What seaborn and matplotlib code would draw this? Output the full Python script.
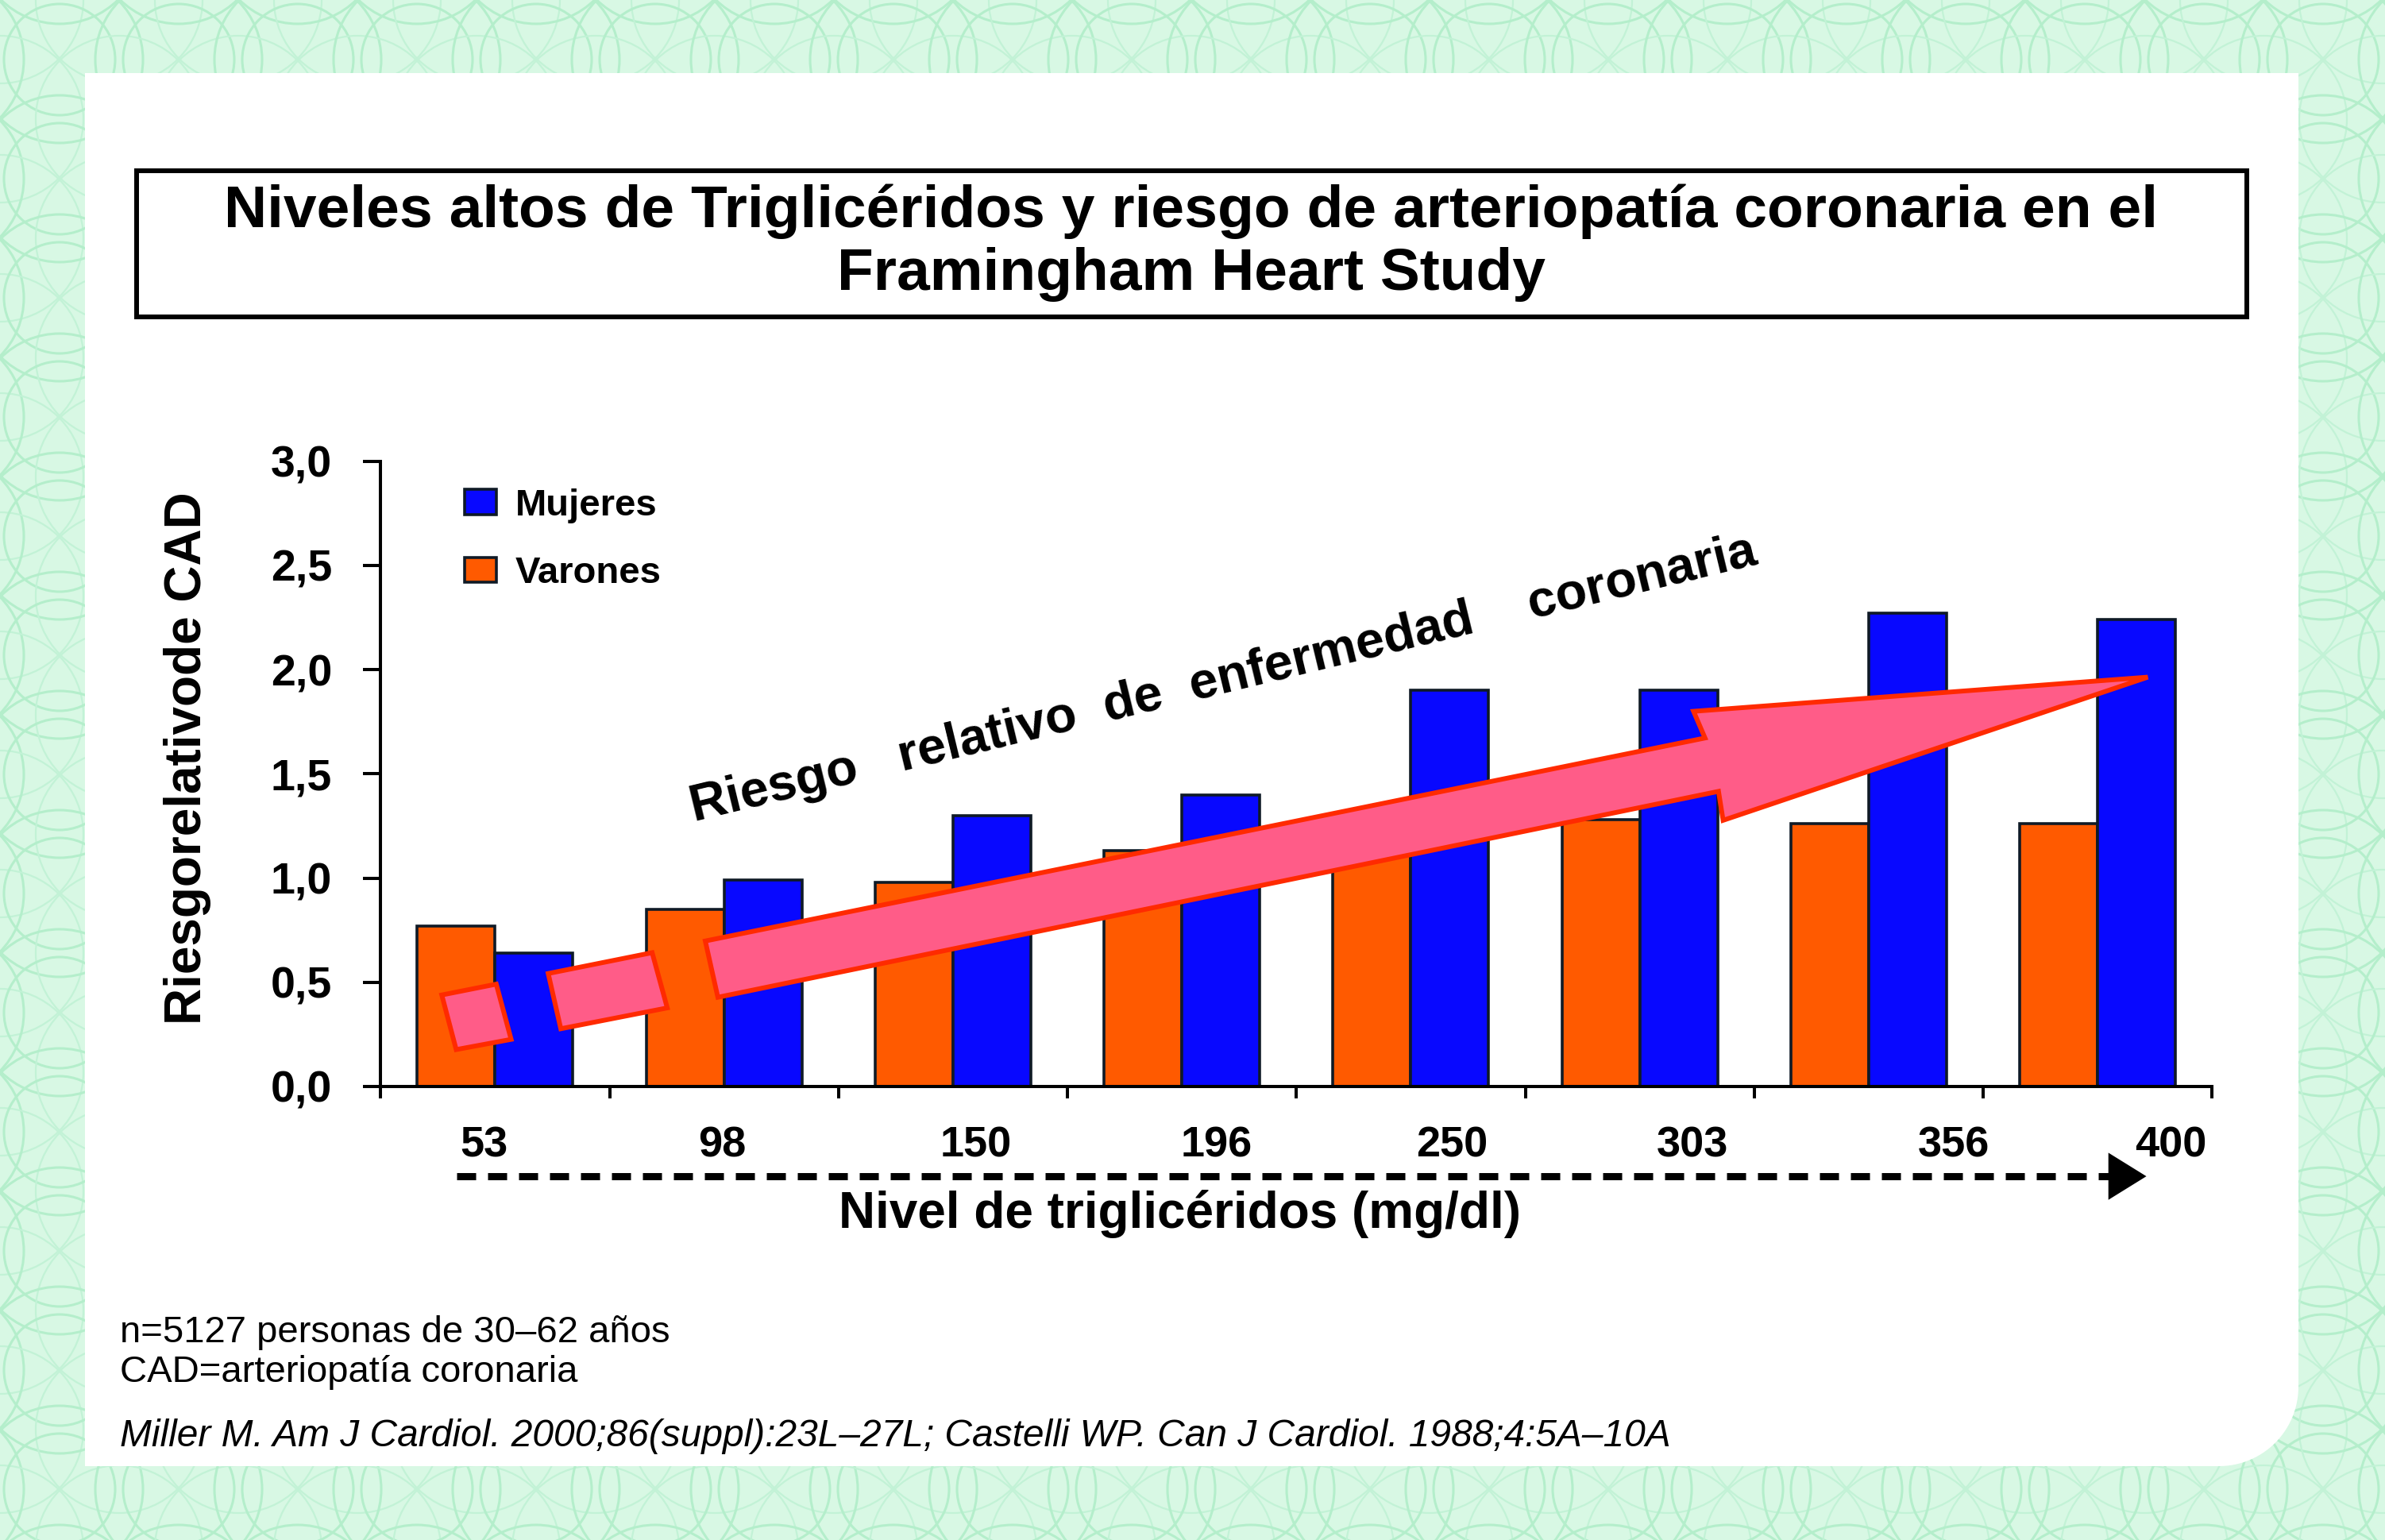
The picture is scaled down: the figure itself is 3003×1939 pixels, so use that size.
import numpy as np
import pandas as pd
import matplotlib
matplotlib.use("Agg")
import matplotlib.pyplot as plt
from matplotlib.patches import Polygon, Rectangle, Circle, Patch
import seaborn as sns

# datos
niveles = ["53", "98", "150", "196", "250", "303", "356", "400"]
mujeres = [0.64, 0.99, 1.30, 1.40, 1.90, 1.90, 2.27, 2.24]
varones = [0.77, 0.85, 0.98, 1.13, 1.20, 1.28, 1.26, 1.26]
desplaz_etiquetas = [-0.05, -0.01, 0.10, 0.15, 0.18, 0.23, 0.37, 0.32]
grupos = ["Varones", "Mujeres"]
colores = {"Varones": "#ff5a00", "Mujeres": "#0808ff"}
borde_barra = "#0f1a26"

titulo = ("Niveles altos de Triglicéridos y riesgo de arteriopatía coronaria en el\n"
          "Framingham Heart Study")
notas = ["n=5127 personas de 30\u201362 años", "CAD=arteriopatía coronaria"]
cita = ("Miller M. Am J Cardiol. 2000;86(suppl):23L\u201327L; "
        "Castelli WP. Can J Cardiol. 1988;4:5A\u201310A")

df = pd.DataFrame({
    "nivel": niveles * 2,
    "grupo": ["Varones"] * len(niveles) + ["Mujeres"] * len(niveles),
    "riesgo": varones + mujeres,
})

sns.set_theme(style="white")
plt.rcParams["font.family"] = ["Liberation Sans", "DejaVu Sans"]
plt.rcParams["text.color"] = "black"
plt.rcParams["xtick.color"] = "black"
plt.rcParams["ytick.color"] = "black"

W, H = 3003, 1939
fig = plt.figure(figsize=(W / 100, H / 100), dpi=100)
fig.patch.set_facecolor("#d8f8e4")

# fondo con anillos verdes y panel blanco
bg = fig.add_axes([0, 0, 1, 1])
bg.set_xlim(0, W)
bg.set_ylim(H, 0)
bg.axis("off")
for cx in range(-75, W + 150, 150):
    for cy in range(-75, H + 150, 150):
        for r in (70, 105):
            bg.add_patch(Circle((cx, cy), r, fill=False, ec="#b4eecb", lw=2.2))
        bg.add_patch(Circle((cx + 75, cy + 75), 105, fill=False, ec="#c2f2d6", lw=1.6))

x0, x1, y0, y1, rad = 107, 2894, 92, 1846, 100
ang = np.linspace(0, np.pi / 2, 30)
esquina = np.column_stack([x1 - rad + rad * np.cos(ang), y1 - rad + rad * np.sin(ang)])
panel = np.vstack([[x0, y0], [x1, y0], esquina, [x0, y1]])
bg.add_patch(Polygon(panel, closed=True, fc="white", ec="none"))

bg.add_patch(Rectangle((172, 215), 2657, 184, fc="white", ec="black", lw=4.3))
bg.text(1500, 306, titulo, ha="center", va="center", fontsize=54,
        fontweight="bold", linespacing=1.18)

# grafico de barras
ax = fig.add_axes([0.1596, 0.2945, 0.7679, 0.406])
sns.barplot(data=df, x="nivel", y="riesgo", hue="grupo", hue_order=grupos,
            order=niveles, palette=colores, width=0.68, saturation=1,
            edgecolor=borde_barra, linewidth=2.6, legend=False, ax=ax)
ax.patch.set_visible(False)
ax.set_xlim(-0.5, 7.5)
ax.set_ylim(0, 3)
for s in ["top", "right"]:
    ax.spines[s].set_visible(False)
for s in ["left", "bottom"]:
    ax.spines[s].set_linewidth(2.9)
    ax.spines[s].set_color("black")

yt = np.arange(0, 3.01, 0.5)
ax.set_yticks(yt)
ax.set_yticklabels([f"{v:.1f}".replace(".", ",") for v in yt],
                   fontsize=40, fontweight="bold")
ax.tick_params(axis="y", direction="out", length=16, width=2.9, pad=28,
               left=True, color="black")

ax.set_xticks(np.arange(-0.5, 8, 1))
ax.set_xticklabels([])
ax.set_xticks(np.arange(len(niveles)) + np.array(desplaz_etiquetas), minor=True)
ax.set_xticklabels(niveles, minor=True, fontsize=39, fontweight="bold")
ax.tick_params(axis="x", which="major", direction="out", length=11, width=2.9,
               bottom=True, color="black")
ax.tick_params(axis="x", which="minor", length=0, pad=36)
ax.set_xlabel("")
ax.set_ylabel("")

leyenda = [Patch(fc=colores["Mujeres"], ec=borde_barra, lw=2.6),
           Patch(fc=colores["Varones"], ec=borde_barra, lw=2.6)]
ax.legend(leyenda, ["Mujeres", "Varones"], loc="upper left",
          bbox_to_anchor=(0.046, 0.957), frameon=False, borderaxespad=0,
          borderpad=0, handlelength=0.85, handleheight=0.65, handletextpad=0.5,
          labelspacing=0.88, prop={"size": 34, "weight": "bold"})

# flecha rosa de tendencia
rosa, rojo = "#ff5c88", "#ff2a00"
trozos = [
    [(-0.233, 0.439), (0.005, 0.491), (0.070, 0.226), (-0.170, 0.177)],
    [(0.232, 0.542), (0.686, 0.642), (0.752, 0.377), (0.287, 0.277)],
    [(0.918, 0.698), (5.285, 1.672), (5.235, 1.800), (7.219, 1.964),
     (5.364, 1.277), (5.344, 1.416), (0.973, 0.428)],
]
for t in trozos:
    ax.add_patch(Polygon(t, closed=True, fc=rosa, ec=rojo, lw=4.3,
                         joinstyle="miter", zorder=5, clip_on=False))

ax.text(0.87, 1.27, "Riesgo   relativo  de  enfermedad    coronaria",
        rotation=13.6, rotation_mode="anchor", ha="left", va="baseline",
        fontsize=46.5, fontweight="bold", zorder=6)

# flecha discontinua del eje x
ax.plot([-0.168, 7.05], [-0.431, -0.431], color="black", lw=6.5,
        dashes=(2.66, 1.66), clip_on=False, solid_capstyle="butt")
ax.add_patch(Polygon([(7.047, -0.318), (7.213, -0.431), (7.047, -0.544)],
                     closed=True, fc="black", ec="none", clip_on=False))
ax.text(2.99, -0.613, "Nivel de triglicéridos (mg/dl)", ha="center",
        va="center", fontsize=46, fontweight="bold")

fig.text(0.0785, 0.5078, "Riesgorelativode CAD", rotation=90, ha="center",
         va="center", fontsize=46, fontweight="bold")

fig.text(0.0504, 0.1345, notas[0], ha="left", va="center", fontsize=34)
fig.text(0.0504, 0.1088, notas[1], ha="left", va="center", fontsize=34)
fig.text(0.0504, 0.0675, cita, ha="left", va="center", fontsize=34.5,
         style="italic")

fig.savefig("out.png", dpi=100, facecolor=fig.get_facecolor())
